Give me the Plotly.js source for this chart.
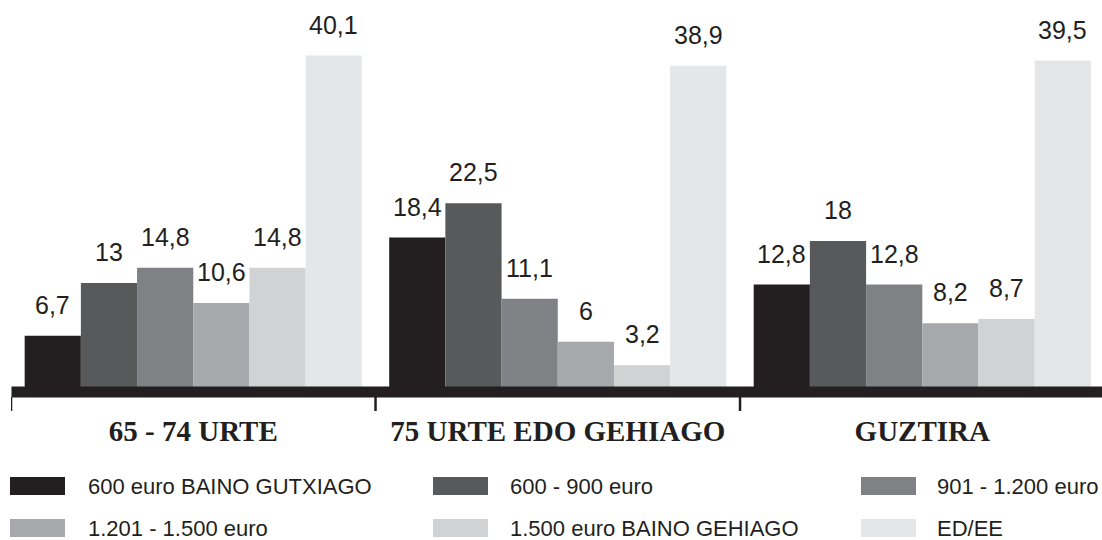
<!DOCTYPE html>
<html>
<head>
<meta charset="utf-8">
<script src="https://cdn.plot.ly/plotly-3.0.1.min.js"></script>
<style>html,body{margin:0;padding:0;background:#fff;}</style>
</head>
<body>
<div id="chart" style="width:1102px;height:540px;"></div>
<script>
// ---- data ----
const categories = ["65 - 74 URTE", "75 URTE EDO GEHIAGO", "GUZTIRA"];
const seriesNames = ["600 euro BAINO GUTXIAGO", "600 - 900 euro", "901 - 1.200 euro",
                     "1.201 - 1.500 euro", "1.500 euro BAINO GEHIAGO", "ED/EE"];
const s1 = [6.7, 18.4, 12.8];
const s2 = [13, 22.5, 18];
const s3 = [14.8, 11.1, 12.8];
const s4 = [10.6, 6, 8.2];
const s5 = [14.8, 3.2, 8.7];
const s6 = [40.1, 38.9, 39.5];
const seriesValues = [s1, s2, s3, s4, s5, s6];
const colors = ["#231f20", "#58595b", "#808184", "#a7a8ab", "#d1d2d4", "#e5e6e7"];

// ---- layout geometry ----
const W = 1102, H = 540;
const mL = 11, mR = 0, mT = 0, mB = 148;
const plotW = W - mL - mR, plotH = H - mT - mB;
const bargap = 0.075;
const nS = seriesNames.length;
const barW = (1 - bargap) / nS;
const px = x => (x - mL) / plotW;
const py = y => (H - mB - y) / plotH;
const textColor = "#231f20";
const sans = "Liberation Sans, Arial, sans-serif";

const traces = seriesValues.map((vals, j) => ({
  type: "bar",
  x: categories.map((c, i) => i),
  y: vals,
  name: seriesNames[j],
  marker: { color: colors[j], line: { width: 0 } },
  showlegend: false,
  hoverinfo: "skip"
}));

const annotations = [];
seriesValues.forEach((vals, j) => {
  vals.forEach((v, i) => {
    annotations.push({
      x: i + (j - (nS - 1) / 2) * barW,
      y: v,
      xref: "x", yref: "y",
      text: String(v).replace(".", ","),
      showarrow: false,
      xanchor: "center", yanchor: "bottom",
      yshift: 15,
      font: { family: sans, size: 25, color: textColor }
    });
  });
});

// custom legend (3 columns x 2 rows)
const shapes = [];
const colSwatchX = [10, 433, 861];
const colTextX = [88, 510, 937];
const rowY = [486, 528];
seriesNames.forEach((name, k) => {
  const r = Math.floor(k / 3), c = k % 3;
  shapes.push({
    type: "rect", xref: "paper", yref: "paper", layer: "above",
    x0: px(colSwatchX[c]), x1: px(colSwatchX[c] + 55),
    y0: py(rowY[r] - 9), y1: py(rowY[r] + 9),
    fillcolor: colors[k], line: { width: 0 }
  });
  annotations.push({
    xref: "paper", yref: "paper",
    x: px(colTextX[c] - 2), y: py(rowY[r]),
    xanchor: "left", yanchor: "middle",
    text: name, showarrow: false,
    font: { family: sans, size: 22, color: textColor }
  });
});

// thick baseline (paper coords so it is not clipped)
shapes.push({
  type: "line", xref: "paper", yref: "paper", layer: "above",
  x0: px(11.5), x1: 1, y0: 0, y1: 0,
  line: { color: "#231f20", width: 11 }
});

// category boundary ticks
const tickBounds = [-0.5, 0.5, 1.5, 2.5];
tickBounds.forEach(b => {
  shapes.push({
    type: "line", xref: "x", yref: "paper", layer: "above",
    x0: b, x1: b, y0: py(397), y1: py(411),
    line: { color: "#231f20", width: 2.5 }
  });
});

const layout = {
  width: W, height: H,
  margin: { l: mL, r: mR, t: mT, b: mB, pad: 0 },
  paper_bgcolor: "#ffffff",
  plot_bgcolor: "#ffffff",
  barmode: "group",
  bargap: bargap,
  bargroupgap: 0,
  showlegend: false,
  xaxis: {
    type: "linear",
    range: [-0.5, 2.493],
    tickmode: "array",
    tickvals: [0, 1, 2],
    ticktext: categories,
    showgrid: false, zeroline: false, showline: false,
    ticks: "",
    tickfont: { family: "Liberation Serif, Times New Roman, serif", size: 29, color: textColor, weight: "bold" },
    ticklabelstandoff: 19,
    fixedrange: true
  },
  yaxis: {
    range: [0, 392 / 8.39],
    showgrid: false, zeroline: false, showline: false,
    showticklabels: false, ticks: "",
    fixedrange: true
  },
  shapes: shapes,
  annotations: annotations
};

Plotly.newPlot("chart", traces, layout, { displayModeBar: false, staticPlot: true });
</script>
</body>
</html>
